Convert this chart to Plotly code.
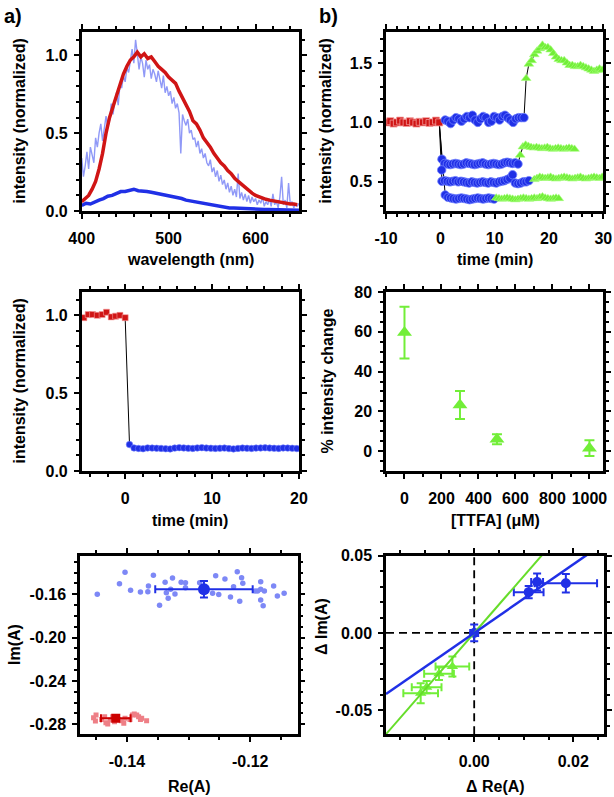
import numpy as np
import plotly.graph_objects as go

W, H = 614, 797

# ---------------- Panel a (top): emission spectra ----------------
wl_noisy = np.arange(400, 651, 2)
spec_norm_blue = [0.34, 0.22, 0.29, 0.38, 0.27, 0.41, 0.36, 0.31, 0.47, 0.41, 0.50,
                  0.56, 0.45, 0.53, 0.61, 0.54, 0.58, 0.69, 0.62, 0.70, 0.76,
                  0.68, 0.81, 0.79, 0.87, 0.83,
                  0.92, 0.89, 0.96, 1.04, 0.95, 1.10, 1.01, 0.91, 0.99, 0.95,
                  0.86, 0.97, 0.91, 0.94, 0.85, 0.91, 0.88, 0.83, 0.90, 0.84,
                  0.79, 0.87, 0.76, 0.80, 0.74,
                  0.77, 0.69, 0.73, 0.66, 0.69, 0.63, 0.37, 0.62, 0.58, 0.55,
                  0.59, 0.50, 0.52, 0.46, 0.47, 0.41, 0.45, 0.37, 0.40, 0.34,
                  0.37, 0.31, 0.29, 0.33, 0.25,
                  0.28, 0.22, 0.26, 0.19, 0.23, 0.17, 0.20, 0.14, 0.18, 0.12,
                  0.16, 0.10, 0.14, 0.09, 0.24, 0.08, 0.12, 0.07, 0.11, 0.06,
                  0.10, 0.05, 0.09, 0.06, 0.08,
                  0.04, 0.07, 0.05, 0.09, 0.03, 0.06, 0.04, 0.08, 0.03, 0.11,
                  0.04, 0.06, 0.02, 0.09, 0.22, 0.04, 0.07, 0.02, 0.18, 0.04,
                  0.06, 0.02, 0.05, 0.03, 0.05]
wl_red = np.arange(400, 649, 4)
spec_red = [0.06, 0.08, 0.10, 0.14, 0.19, 0.27, 0.37, 0.50, 0.60, 0.67,
            0.74, 0.80, 0.88, 0.93, 0.97, 0.99, 1.02, 0.99, 1.01, 0.98,
            0.99, 0.96, 0.93, 0.91, 0.89, 0.86, 0.84, 0.82, 0.77, 0.73,
            0.68, 0.64, 0.58, 0.56, 0.52, 0.47, 0.44, 0.41, 0.37, 0.34,
            0.31, 0.29, 0.26, 0.24, 0.21, 0.19, 0.17, 0.15, 0.13, 0.115,
            0.10, 0.09, 0.08, 0.075, 0.07, 0.065, 0.06, 0.06, 0.055, 0.05,
            0.045, 0.045, 0.04]
wl_blue = np.arange(400, 651, 5)
spec_blue = [0.035, 0.05, 0.045, 0.06, 0.07, 0.08, 0.095, 0.10, 0.11, 0.125,
             0.125, 0.13, 0.14, 0.13, 0.13, 0.125, 0.12, 0.115, 0.11, 0.105,
             0.10, 0.095, 0.085, 0.08, 0.07, 0.065, 0.055, 0.05, 0.045, 0.04,
             0.035, 0.03, 0.028, 0.025, 0.02, 0.02, 0.018, 0.015, 0.014, 0.013,
             0.012, 0.01, 0.01, 0.009, 0.008, 0.008, 0.007, 0.006, 0.006, 0.005,
             0.005]

# ---------------- Panel a (middle): time trace ----------------
a_red_t = [-4.75, -4.25, -3.75, -3.2, -2.65, -2.15, -1.6, -1.1, -0.6, 0.0]
a_red_y = [0.985, 1.005, 1.005, 1.0, 1.005, 1.02, 0.99, 0.995, 1.0, 0.985]
a_blue_t0, a_blue_step = 0.5, 0.52
a_blue_y = [0.17, 0.148, 0.145, 0.143, 0.148, 0.147, 0.146, 0.145, 0.143, 0.142,
            0.147, 0.150, 0.148, 0.146, 0.145, 0.148, 0.150, 0.147, 0.146, 0.145,
            0.146, 0.147, 0.144, 0.142, 0.145, 0.147, 0.146, 0.145, 0.147, 0.148,
            0.149, 0.147, 0.146, 0.145, 0.148, 0.147, 0.146, 0.144]

# ---------------- Panel b (top): time traces ----------------
b_red_t0, b_red_step = -9.8, 0.6
b_red_y = [1.0, 1.01, 0.99, 1.0, 1.015, 1.0, 0.995, 1.01, 1.0, 0.99,
           1.005, 1.0, 1.01, 0.995, 1.0, 1.015, 1.0]
# experiment 1
s1_blue_t0 = 0.9
s1_blue_y = [1.02, 1.01, 0.99, 1.02, 1.04, 1.03, 1.01, 1.03, 1.05, 1.04,
             1.06, 1.02, 1.00, 1.03, 1.05, 1.04, 1.00, 1.01, 1.05, 1.04,
             1.02, 1.05, 1.06, 1.04, 1.02, 1.00, 1.03, 1.04, 1.04, 1.04]
s1_green_t0 = 15.8
s1_green_y = [1.37, 1.49, 1.52, 1.57, 1.60, 1.62, 1.65, 1.63, 1.63, 1.61,
              1.58, 1.55, 1.53, 1.52, 1.52, 1.50, 1.48, 1.48, 1.47, 1.47,
              1.48, 1.47, 1.46, 1.45, 1.44, 1.43, 1.44, 1.45, 1.44]
# experiment 2
s2_blue_t0 = 0.3
s2_blue_y = [0.69, 0.655, 0.65, 0.645, 0.65, 0.655, 0.65, 0.645, 0.65, 0.66,
             0.655, 0.65, 0.645, 0.65, 0.655, 0.66, 0.65, 0.645, 0.65, 0.655,
             0.65, 0.645, 0.65, 0.66, 0.665, 0.66, 0.655, 0.66, 0.65]
s2_green_t0 = 14.7
s2_green_y = [0.725, 0.795, 0.81, 0.80, 0.79, 0.785, 0.79, 0.785, 0.78, 0.785,
              0.79, 0.78, 0.775, 0.78, 0.785, 0.78, 0.775, 0.78, 0.785, 0.78,
              0.775]
# experiment 3
s3_lead_t = [0.25, 0.3]
s3_lead_y = [0.60, 0.505]
s3_blue_t0 = 0.8
s3_blue_y = [0.51, 0.505, 0.50, 0.505, 0.51, 0.50, 0.505, 0.50, 0.495, 0.49,
             0.50, 0.495, 0.49, 0.495, 0.50, 0.495, 0.49, 0.50, 0.495, 0.49,
             0.50, 0.505, 0.51, 0.52, 0.53, 0.56, 0.49, 0.485, 0.49, 0.50,
             0.50, 0.51]
s3_green_t0 = 17.3
s3_green_y = [0.52, 0.53, 0.54, 0.535, 0.53, 0.535, 0.54, 0.53, 0.525, 0.53,
              0.535, 0.54, 0.535, 0.53, 0.525, 0.53, 0.535, 0.54, 0.53, 0.525,
              0.53, 0.535, 0.54, 0.535, 0.53, 0.54]
# experiment 4
s4_blue_t0 = 0.9
s4_blue_y = [0.39, 0.37, 0.365, 0.36, 0.355, 0.36, 0.365, 0.36, 0.355, 0.35,
             0.355, 0.36, 0.365, 0.36, 0.355, 0.36, 0.365, 0.36, 0.355]
s4_green_t0 = 10.3
s4_green_y = [0.365, 0.36, 0.355, 0.36, 0.365, 0.36, 0.355, 0.35, 0.355, 0.36,
              0.365, 0.36, 0.355, 0.36, 0.365, 0.36, 0.37, 0.375, 0.365, 0.36,
              0.355, 0.36, 0.365, 0.36]
b_step = 0.5

# ---------------- Panel b (middle): % change vs TTFA ----------------
ttfa_uM = [0, 300, 500, 1000]
pct_change = [59.6, 23.2, 6.0, 1.5]
pct_err = [13.0, 7.0, 2.5, 4.0]

# ---------------- Panel a (bottom): Im vs Re ----------------
re_blue = [-0.1448, -0.1412, -0.1403, -0.1394, -0.1378, -0.1366, -0.1365, -0.1357,
           -0.1347, -0.1338, -0.1336, -0.1333, -0.1329, -0.1326, -0.1322, -0.1312,
           -0.1305, -0.1305, -0.1282, -0.1261, -0.1256, -0.1251, -0.1241, -0.1232,
           -0.1227, -0.1221, -0.1217, -0.1214, -0.1212, -0.1192, -0.1188, -0.1183,
           -0.1183, -0.1183, -0.1179, -0.1177, -0.1162, -0.1156, -0.1145]
im_blue = [-0.1600, -0.1502, -0.1397, -0.1563, -0.1579, -0.1576, -0.1523, -0.1425,
           -0.1702, -0.1489, -0.1585, -0.1637, -0.1554, -0.1449, -0.1597, -0.1489,
           -0.1493, -0.1539, -0.1493, -0.1591, -0.1428, -0.1603, -0.1459, -0.1625,
           -0.1530, -0.1391, -0.1665, -0.1447, -0.1498, -0.1570, -0.1570, -0.1484,
           -0.1554, -0.1653, -0.1705, -0.1570, -0.1523, -0.1616, -0.1591]
re_red = [-0.1454, -0.1450, -0.1451, -0.1441, -0.1436, -0.1434, -0.1431, -0.1427,
          -0.1423, -0.1420, -0.1414, -0.1409, -0.1405, -0.1403, -0.1395, -0.1391,
          -0.1388, -0.1384, -0.1381, -0.1378, -0.1376, -0.1368]
im_red = [-0.2739, -0.2714, -0.2770, -0.2755, -0.2730, -0.2786, -0.2798, -0.2761,
          -0.2730, -0.2776, -0.2755, -0.2767, -0.2791, -0.2745, -0.2755, -0.2714,
          -0.2705, -0.2714, -0.2730, -0.2755, -0.2745, -0.2767]
mean_blue = dict(re=-0.1275, im=-0.1554, re_err=0.0079, im_err=0.0076)
mean_red = dict(re=-0.1418, im=-0.2745, re_err=0.0024, im_err=0.0015)

# ---------------- Panel b (bottom): dIm vs dRe ----------------
d_re_blue = [0.0, 0.0110, 0.0127, 0.0185]
d_im_blue = [0.0, 0.0264, 0.0330, 0.0322]
d_re_blue_err = [0.0008, 0.0030, 0.0012, 0.0063]
d_im_blue_err = [0.0054, 0.0040, 0.0055, 0.0060]
d_re_green = [-0.0044, -0.0071, -0.0096, -0.0108]
d_im_green = [-0.0217, -0.0264, -0.0351, -0.0390]
d_re_green_err = [0.0034, 0.0030, 0.0030, 0.0035]
d_im_green_err = [0.0065, 0.0040, 0.0040, 0.0065]
slope_blue = 2.22
slope_green = 3.68

# ---------------- styling ----------------
C_RED = "#d01515"
C_BLUE = "#2030e6"
C_LBLUE = "#7d88f6"
C_GREEN = "#72ee38"
FONT = "Liberation Sans"
FS = 16


def xd(l, r):
    return [l / W, r / W]


def yd(t, b):
    return [1 - b / H, 1 - t / H]


def axis(domain, rng, dtick, mdtick, anchor, fmt, tick0=0, standoff=3):
    return dict(domain=domain, range=rng, dtick=dtick, tick0=tick0,
                tickformat=fmt, anchor=anchor, automargin=False,
                ticks="outside", ticklen=5, tickwidth=2, tickcolor="black",
                minor=dict(ticks="outside", ticklen=3, tickwidth=1.5,
                           tickcolor="black", dtick=mdtick, tick0=tick0),
                showline=True, linewidth=2.5, linecolor="black",
                mirror="allticks", showgrid=False, zeroline=False,
                ticklabelstandoff=standoff,
                labelalias={"\u22120.14": "-0.14", "\u22120.12": "-0.12",
                            "\u22120.16": "-0.16", "\u22120.20": "-0.20",
                            "\u22120.24": "-0.24", "\u22120.28": "-0.28",
                            "\u22120.05": "-0.05", "\u221210": "-10"},
                tickfont=dict(family=FONT, size=FS, color="black", weight="bold"))


fig = go.Figure()

# panel 1
fig.add_trace(go.Scatter(x=wl_noisy, y=spec_norm_blue, mode="lines",
                         line=dict(color=C_LBLUE, width=1.4), opacity=0.85,
                         xaxis="x", yaxis="y"))
fig.add_trace(go.Scatter(x=wl_blue, y=spec_blue, mode="lines",
                         line=dict(color=C_BLUE, width=3.5), xaxis="x", yaxis="y"))
fig.add_trace(go.Scatter(x=wl_red, y=spec_red, mode="lines",
                         line=dict(color=C_RED, width=3.5), xaxis="x", yaxis="y"))


def grid(t0, vals, step):
    return [round(t0 + step * i, 3) for i in range(len(vals))]


# panel 2 (top right)
b_red_t = grid(b_red_t0, b_red_y, b_red_step)
series = [
    ([], [], grid(s1_blue_t0, s1_blue_y, b_step), s1_blue_y, grid(s1_green_t0, s1_green_y, b_step), s1_green_y),
    ([], [], grid(s2_blue_t0, s2_blue_y, b_step), s2_blue_y, grid(s2_green_t0, s2_green_y, b_step), s2_green_y),
    (s3_lead_t, s3_lead_y, grid(s3_blue_t0, s3_blue_y, b_step), s3_blue_y, grid(s3_green_t0, s3_green_y, b_step), s3_green_y),
    ([], [], grid(s4_blue_t0, s4_blue_y, b_step), s4_blue_y, grid(s4_green_t0, s4_green_y, b_step), s4_green_y),
]
for lt, ly, bt, by, gt, gy in series:
    fig.add_trace(go.Scatter(x=[b_red_t[-1]] + lt + bt + gt, y=[b_red_y[-1]] + ly + by + gy,
                             mode="lines", line=dict(color="black", width=1),
                             xaxis="x2", yaxis="y2"))
fig.add_trace(go.Scatter(x=b_red_t, y=b_red_y, mode="markers",
                         marker=dict(symbol="square", size=7, color=C_RED,
                                     line=dict(color="#f39a9a", width=0.8)),
                         xaxis="x2", yaxis="y2"))
for lt, ly, bt, by, gt, gy in series:
    fig.add_trace(go.Scatter(x=lt + bt, y=ly + by, mode="markers",
                             marker=dict(symbol="circle", size=8.5, color=C_BLUE,
                                         line=dict(color="#7080ff", width=0.8)),
                             xaxis="x2", yaxis="y2"))
    fig.add_trace(go.Scatter(x=gt, y=gy, mode="markers",
                             marker=dict(symbol="triangle-up", size=8.5, color=C_GREEN,
                                         line=dict(color="#a8ff80", width=0.6)),
                             xaxis="x2", yaxis="y2"))

# panel 3 (middle left)
a_blue_t = grid(a_blue_t0, a_blue_y, a_blue_step)
fig.add_trace(go.Scatter(x=a_red_t + a_blue_t, y=a_red_y + a_blue_y, mode="lines",
                         line=dict(color="black", width=1), xaxis="x3", yaxis="y3"))
fig.add_trace(go.Scatter(x=a_red_t, y=a_red_y, mode="markers",
                         marker=dict(symbol="square", size=6, color=C_RED,
                                     line=dict(color="#f39a9a", width=0.6)),
                         xaxis="x3", yaxis="y3"))
fig.add_trace(go.Scatter(x=a_blue_t, y=a_blue_y, mode="markers",
                         marker=dict(symbol="circle", size=6.5, color=C_BLUE,
                                     line=dict(color="#7080ff", width=0.6)),
                         xaxis="x3", yaxis="y3"))

# panel 4 (middle right)
fig.add_trace(go.Scatter(x=ttfa_uM, y=pct_change, mode="markers",
                         marker=dict(symbol="triangle-up", size=13, color=C_GREEN),
                         error_y=dict(type="data", array=pct_err, color=C_GREEN,
                                      thickness=2, width=5),
                         xaxis="x4", yaxis="y4"))

# panel 5 (bottom left)
fig.add_trace(go.Scatter(x=re_blue, y=im_blue, mode="markers",
                         marker=dict(symbol="circle", size=5.5, color=C_LBLUE),
                         xaxis="x5", yaxis="y5"))
fig.add_trace(go.Scatter(x=re_red, y=im_red, mode="markers",
                         marker=dict(symbol="square", size=5, color="#ee7f86"),
                         xaxis="x5", yaxis="y5"))
fig.add_trace(go.Scatter(x=[mean_blue["re"]], y=[mean_blue["im"]], mode="markers",
                         marker=dict(symbol="circle", size=12, color=C_BLUE),
                         error_x=dict(type="data", array=[mean_blue["re_err"]], color=C_BLUE, thickness=2, width=4),
                         error_y=dict(type="data", array=[mean_blue["im_err"]], color=C_BLUE, thickness=2, width=4),
                         xaxis="x5", yaxis="y5"))
fig.add_trace(go.Scatter(x=[mean_red["re"]], y=[mean_red["im"]], mode="markers",
                         marker=dict(symbol="square", size=9, color="#cc0000"),
                         error_x=dict(type="data", array=[mean_red["re_err"]], color="#cc0000", thickness=2, width=4),
                         error_y=dict(type="data", array=[mean_red["im_err"]], color="#cc0000", thickness=2, width=3),
                         xaxis="x5", yaxis="y5"))

# panel 6 (bottom right)
x6_range = [-0.0178, 0.0262]
fig.add_trace(go.Scatter(x=d_re_green, y=d_im_green, mode="markers",
                         marker=dict(symbol="triangle-up", size=10, color=C_GREEN),
                         error_x=dict(type="data", array=d_re_green_err, color=C_GREEN, thickness=2, width=4),
                         error_y=dict(type="data", array=d_im_green_err, color=C_GREEN, thickness=2, width=4),
                         xaxis="x6", yaxis="y6"))
fig.add_trace(go.Scatter(x=d_re_blue, y=d_im_blue, mode="markers",
                         marker=dict(symbol="circle", size=10, color=C_BLUE),
                         error_x=dict(type="data", array=d_re_blue_err, color=C_BLUE, thickness=2, width=4),
                         error_y=dict(type="data", array=d_im_blue_err, color=C_BLUE, thickness=2, width=4),
                         xaxis="x6", yaxis="y6"))
fig.add_trace(go.Scatter(x=x6_range, y=[slope_green * v for v in x6_range], mode="lines",
                         line=dict(color="#66dd2a", width=2), xaxis="x6", yaxis="y6"))
fig.add_trace(go.Scatter(x=x6_range, y=[slope_blue * v for v in x6_range], mode="lines",
                         line=dict(color=C_BLUE, width=2.5), xaxis="x6", yaxis="y6"))

# axes
X1 = xd(81.7, 299)
X2 = xd(386, 603.3)
X5 = xd(80, 297.7)
X6 = xd(386, 604)
Y1 = yd(32, 211)
Y3 = yd(292, 471)
Y5 = yd(555.7, 734.3)

fig.update_layout(
    template="none",
    xaxis=axis(X1, [400, 650], 100, 20, "y", "d", tick0=400, standoff=6),
    yaxis=axis(Y1, [0, 1.15], 0.5, 0.1, "x", ".1f"),
    xaxis2=axis(X2, [-10, 30], 10, 2, "y2", "d", standoff=6),
    yaxis2=axis(Y1, [0.255, 1.76], 0.5, 0.1, "x2", ".1f"),
    xaxis3=axis(X1, [-5, 20], 10, 2, "y3", "d", standoff=6),
    yaxis3=axis(Y3, [0, 1.15], 0.5, 0.1, "x3", ".1f"),
    xaxis4=axis(X2, [-100, 1075], 200, 100, "y4", "d", standoff=6),
    yaxis4=axis(Y3, [-10, 80], 20, 5, "x4", "d"),
    xaxis5=axis(X5, [-0.1476, -0.1123], 0.02, 0.005, "y5", ".2f", standoff=6),
    yaxis5=axis(Y5, [-0.2892, -0.1244], 0.04, 0.01, "x5", ".2f"),
    xaxis6=axis(X6, x6_range, 0.02, 0.005, "y6", ".2f", standoff=6),
    yaxis6=axis(Y5, [-0.0656, 0.05], 0.05, 0.01, "x6", ".2f"),
)

shapes = [
    dict(type="line", xref="x6", yref="y6 domain", x0=0, x1=0, y0=0, y1=1,
         line=dict(color="black", width=1.8, dash="8px,5px"), layer="below"),
    dict(type="line", xref="x6 domain", yref="y6", x0=0, x1=1, y0=0, y1=0,
         line=dict(color="black", width=1.8, dash="8px,5px"), layer="below"),
]

ann = []


def label(text, px, py, size=FS, angle=0):
    ann.append(dict(text=text, x=px / W, y=1 - py / H, xref="paper", yref="paper",
                    showarrow=False, textangle=angle, xanchor="center", yanchor="middle",
                    font=dict(family=FONT, size=size, color="black", weight="bold")))


label("a)", 13, 16, size=20)
label("b)", 328, 16, size=20)
label("wavelength (nm)", 190, 259)
label("time (min)", 494.5, 259)
label("time (min)", 190, 520)
label("[TTFA] (\u03bcM)", 495, 520)
label("Re(A)", 189, 786)
label("\u0394 Re(A)", 495, 786)
label("intensity (normalized)", 19, 121.5, angle=-90)
label("intensity (normalized)", 325, 121.5, angle=-90)
label("intensity (normalized)", 19, 381.5, angle=-90)
label("% intensity change", 327, 381.5, angle=-90)
label("Im(A)", 14, 645, angle=-90)
label("\u0394 Im(A)", 321, 627, angle=-90)

fig.update_layout(width=W, height=H, margin=dict(l=0, r=0, t=0, b=0, pad=0),
                  paper_bgcolor="white", plot_bgcolor="white", showlegend=False,
                  shapes=shapes, annotations=ann)

fig.write_html("out.html", config={"displayModeBar": False},
               post_script="document.body.style.margin='0';document.body.style.overflow='hidden';")
